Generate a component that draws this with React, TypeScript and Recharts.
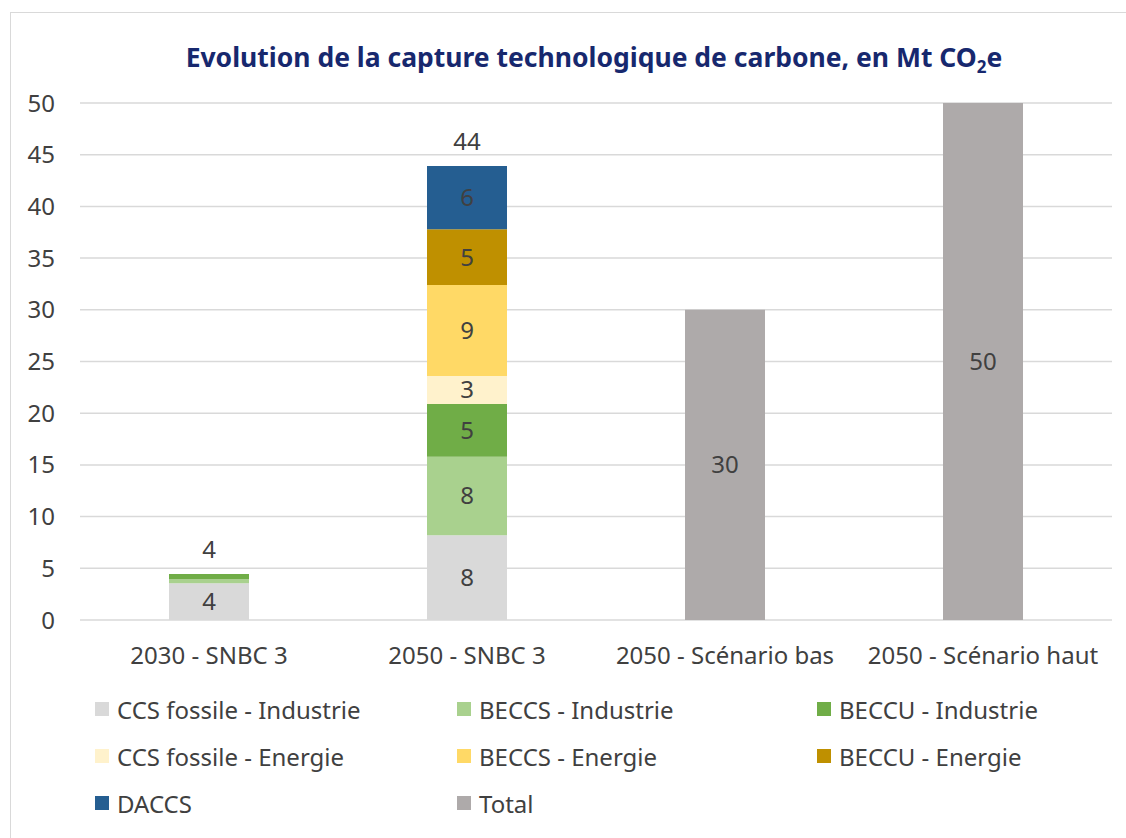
import React from 'react'
import { ComposedChart, Bar, Line, XAxis, YAxis, CartesianGrid, LabelList } from 'recharts'

const categories = ['2030 - SNBC 3', '2050 - SNBC 3', '2050 - Scénario bas', '2050 - Scénario haut']

const ccsFossileIndustrie = [3.55, 8.2, null, null]
const beccsIndustrie = [0.4, 7.6, null, null]
const beccuIndustrie = [0.5, 5.1, null, null]
const ccsFossileEnergie = [0, 2.7, null, null]
const beccsEnergie = [0, 8.8, null, null]
const beccuEnergie = [0, 5.4, null, null]
const daccs = [0, 6.1, null, null]
const total = [null, null, 30, 50]

const yTicks = [0, 5, 10, 15, 20, 25, 30, 35, 40, 45, 50]

const series = [
  { key: 'ccsInd', name: 'CCS fossile - Industrie', values: ccsFossileIndustrie, color: '#D9D9D9' },
  { key: 'beccsInd', name: 'BECCS - Industrie', values: beccsIndustrie, color: '#A9D18E' },
  { key: 'beccuInd', name: 'BECCU - Industrie', values: beccuIndustrie, color: '#70AD47' },
  { key: 'ccsEn', name: 'CCS fossile - Energie', values: ccsFossileEnergie, color: '#FFF2CC' },
  { key: 'beccsEn', name: 'BECCS - Energie', values: beccsEnergie, color: '#FFD966' },
  { key: 'beccuEn', name: 'BECCU - Energie', values: beccuEnergie, color: '#BF9000' },
  { key: 'daccs', name: 'DACCS', values: daccs, color: '#255E91' },
  { key: 'total', name: 'Total', values: total, color: '#AEAAAA' },
]

// somme des empilements (2030 / 2050 SNBC 3), affichée au-dessus des barres
const stackSums = categories.map((_, i) =>
  total[i] != null
    ? null
    : series
        .filter((s) => s.key !== 'total')
        .reduce((sum, s) => sum + (s.values[i] ?? 0), 0)
)

const data = categories.map((cat, i) => {
  const row: Record<string, string | number | null> = { cat, stackSum: stackSums[i] }
  series.forEach((s) => {
    row[s.key] = s.values[i]
  })
  return row
})

const FONT = '"Noto Sans", sans-serif'
const TEXT = '#404040'
const FS = 24

const insideFormatter = (v: any) => {
  if (v == null || v < 1) return ''
  return Math.round(v)
}

export default function App() {
  return (
    <div
      style={{
        position: 'absolute',
        left: 0,
        top: 0,
        width: 1126,
        height: 838,
        background: '#fff',
        overflow: 'hidden',
        fontFamily: FONT,
      }}
    >
      <div
        style={{
          position: 'absolute',
          left: 10,
          top: 12,
          width: 1200,
          height: 900,
          borderLeft: '1px solid #D9D9D9',
          borderTop: '1px solid #D9D9D9',
        }}
      />
      <div
        style={{
          position: 'absolute',
          top: 39,
          left: 0,
          width: 1188,
          textAlign: 'center',
          fontSize: 26.5,
          fontWeight: 700,
          color: '#17286E',
        }}
      >
        Evolution de la capture technologique de carbone, en Mt CO<sub style={{ fontSize: 17 }}>2</sub>e
      </div>
      <div style={{ position: 'absolute', left: 0, top: 0 }}>
        <ComposedChart
          width={1126}
          height={838}
          data={data}
          barSize={80}
          margin={{ top: 103, right: 14, left: 0, bottom: 188 }}
        >
          <CartesianGrid vertical={false} stroke="#D9D9D9" strokeWidth={1.5} />
          <XAxis
            dataKey="cat"
            axisLine={false}
            tickLine={false}
            tickMargin={21}
            tick={{ fill: TEXT, fontSize: FS, fontFamily: FONT }}
            interval={0}
          />
          <YAxis
            width={80}
            domain={[0, 50]}
            ticks={yTicks}
            axisLine={false}
            tickLine={false}
            tickMargin={19}
            tick={{ fill: TEXT, fontSize: FS, fontFamily: FONT }}
          />
          {series.map((s) => (
            <Bar
              key={s.key}
              dataKey={s.key}
              name={s.name}
              stackId="a"
              fill={s.color}
              isAnimationActive={false}
            >
              <LabelList
                dataKey={s.key}
                position="center"
                formatter={insideFormatter}
                style={{ fill: TEXT, fontSize: FS, fontFamily: FONT }}
              />
            </Bar>
          ))}
          <Line
            dataKey="stackSum"
            stroke="none"
            dot={false}
            activeDot={false}
            legendType="none"
            isAnimationActive={false}
          >
            <LabelList
              dataKey="stackSum"
              position="top"
              offset={16}
              formatter={(v: any) => (v == null ? '' : Math.round(v))}
              style={{ fill: TEXT, fontSize: FS, fontFamily: FONT }}
            />
          </Line>
        </ComposedChart>
      </div>
      <div
        style={{
          position: 'absolute',
          left: 95,
          top: 693,
          display: 'grid',
          gridTemplateColumns: '362px 360px 300px',
          rowGap: 15,
        }}
      >
        {series.map((s) => (
          <div
            key={s.key}
            style={{ display: 'flex', alignItems: 'center', height: 32, fontSize: FS, color: TEXT }}
          >
            <span
              style={{ width: 14, height: 14, background: s.color, marginRight: 8, display: 'inline-block' }}
            />
            {s.name}
          </div>
        ))}
      </div>
    </div>
  )
}
